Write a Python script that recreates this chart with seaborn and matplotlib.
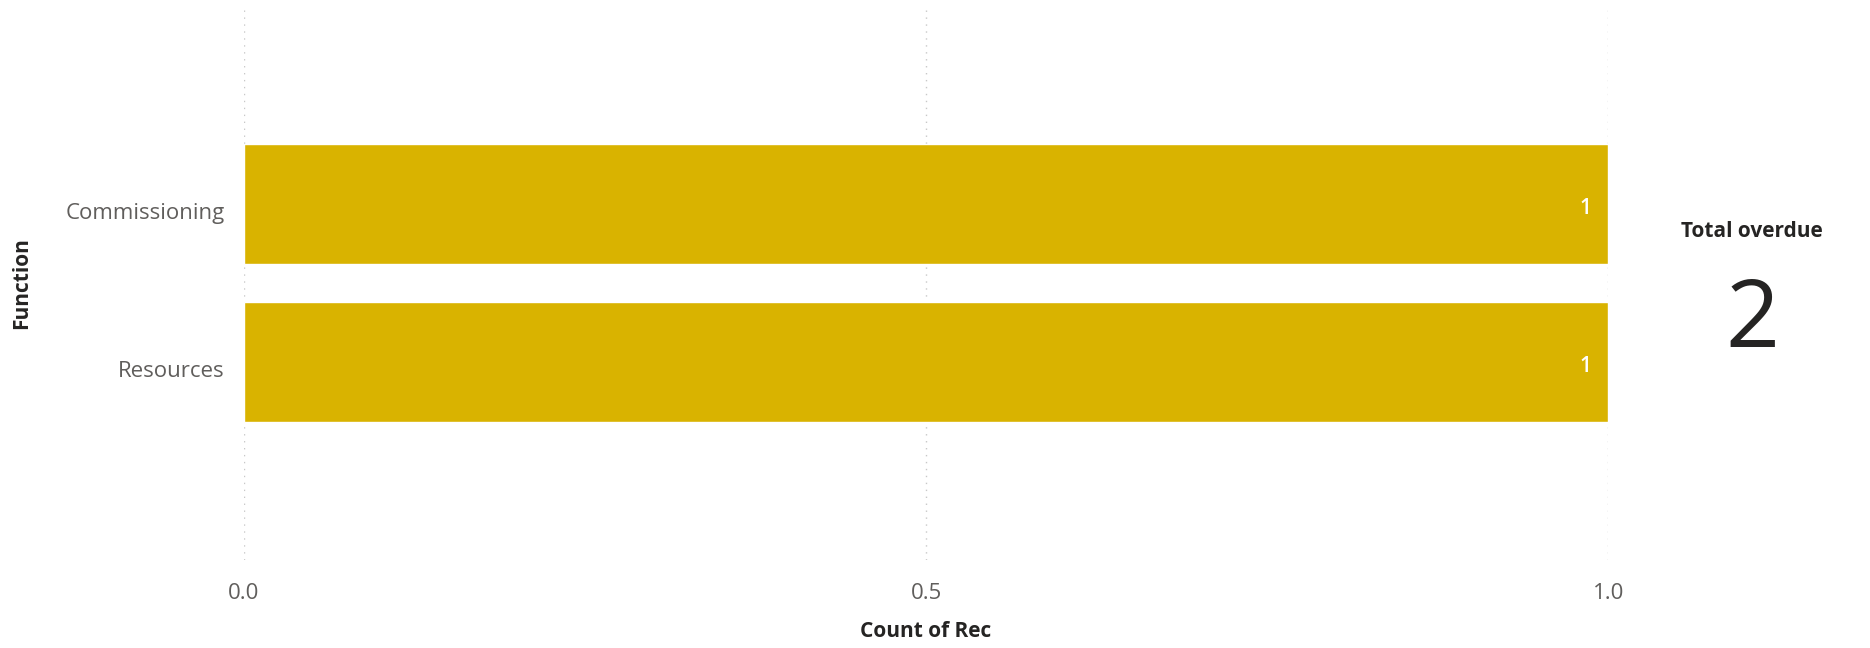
import matplotlib
matplotlib.use('Agg')
import matplotlib.pyplot as plt
import matplotlib.transforms as mtransforms
import seaborn as sns
import pandas as pd

functions = ['Commissioning', 'Resources']
counts = [1, 1]
total_overdue = sum(counts)

sns.set_theme(style='white')
plt.rcParams['font.family'] = ['Open Sans', 'DejaVu Sans']

df = pd.DataFrame({'Function': functions, 'Count of Rec': counts})

fig = plt.figure(figsize=(18.7, 6.48), dpi=100)
ax = fig.add_axes([0.1305, 0.136, 0.7295, 0.855])

sns.barplot(data=df, x='Count of Rec', y='Function', orient='h',
            color='#D9B300', saturation=1, width=0.76, ax=ax)

# data labels inside end
for p, v in zip(ax.patches, counts):
    ax.text(p.get_x() + p.get_width() - 0.012, p.get_y() + p.get_height() / 2 + 0.03, str(v),
            ha='right', va='center', color='white', fontsize=15, fontweight='semibold')

ax.set_xlim(0, 1.0)
ax.set_ylim(2.25, -1.25)
ax.set_xticks([0, 0.5, 1.0])
ax.set_xticklabels(['0.0', '0.5', '1.0'])
ax.grid(axis='x', color='#C8C8C8', linestyle=(0, (1, 4)), linewidth=1)
ax.set_axisbelow(True)
for s in ax.spines.values():
    s.set_visible(False)
ax.tick_params(axis='both', length=0, labelsize=16, colors='#605E5C')
ax.tick_params(axis='x', pad=17)
ax.tick_params(axis='y', pad=14)
# nudge category labels down a little, like the Power BI visual
shift = mtransforms.ScaledTranslation(0, -5 / 72, fig.dpi_scale_trans)
for lbl in ax.get_yticklabels():
    lbl.set_transform(lbl.get_transform() + shift)
ax.set_xlabel('Count of Rec', fontsize=15, fontweight='bold', color='#252423', labelpad=12)
ax.set_ylabel('Function', fontsize=15, fontweight='bold', color='#252423', labelpad=24)

fig.text(0.937, 0.642, 'Total overdue', ha='center', va='center', fontsize=15,
         fontweight='bold', color='#252423')
fig.text(0.937, 0.503, str(total_overdue), ha='center', va='center', fontsize=68,
         color='#252423')

plt.savefig('out.png', dpi=100)
plt.close()
